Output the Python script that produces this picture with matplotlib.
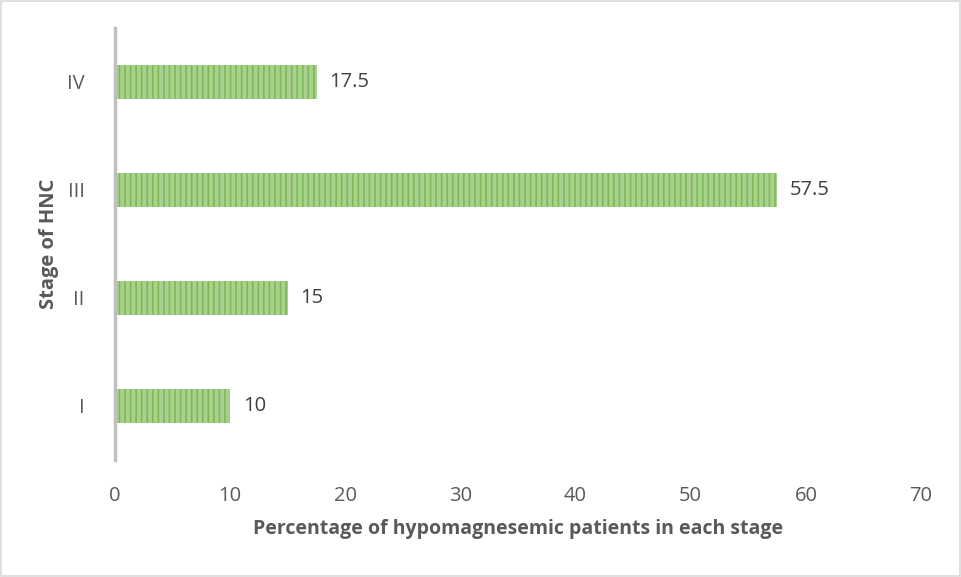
import matplotlib.pyplot as plt
from matplotlib.patches import Rectangle

stages = ["I", "II", "III", "IV"]
percentages = [10, 15, 57.5, 17.5]
x_ticks = [0, 10, 20, 30, 40, 50, 60, 70]

plt.rcParams['font.family'] = ['Open Sans', 'DejaVu Sans']
plt.rcParams['hatch.linewidth'] = 1.2

fig = plt.figure(figsize=(9.61, 5.77), dpi=100)
ax = fig.add_axes([0.1197, 0.2028, 0.8387, 0.7487])

bars = ax.barh(range(len(stages)), percentages, height=0.32,
               color="#a9d18e", edgecolor="#7cb957", hatch="|||", linewidth=0)

for i, v in enumerate(percentages):
    ax.text(v + 1.1, i, f"{v:g}", va="center", ha="left",
            fontsize=14.5, color="#404040")

ax.set_xlim(0, 70)
ax.set_ylim(-0.5, 3.5)
ax.set_xticks(x_ticks)
ax.set_yticks(range(len(stages)))
ax.set_yticklabels(stages)
ax.tick_params(axis="both", length=0, labelsize=14.5, colors="#595959")
ax.tick_params(axis="x", pad=19)
ax.tick_params(axis="y", pad=22)

for s in ["top", "right", "bottom"]:
    ax.spines[s].set_visible(False)
ax.spines["left"].set_color("#bfbfbf")
ax.spines["left"].set_linewidth(2.5)

ax.set_xlabel("Percentage of hypomagnesemic patients in each stage",
              fontsize=14, fontweight="bold", color="#595959", labelpad=9)
ax.set_ylabel("Stage of HNC", fontsize=14.5, fontweight="bold",
              color="#595959", labelpad=6)

fig.patches.append(Rectangle((0.001, 0.001), 0.998, 0.997, transform=fig.transFigure,
                             fill=False, edgecolor="#d9d9d9", linewidth=1.2))

fig.savefig("out.png", dpi=100)
